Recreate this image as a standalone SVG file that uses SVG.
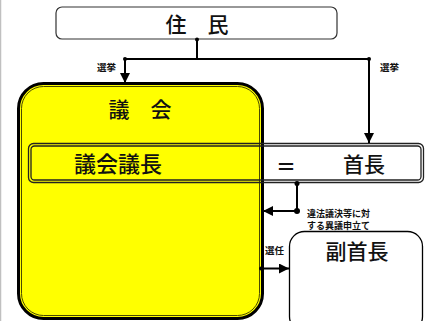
<svg xmlns="http://www.w3.org/2000/svg" width="425" height="321" viewBox="0 0 425 321">
<defs>
<style>
.t{font-family:"Noto Sans CJK JP","Noto Sans",sans-serif;fill:#111;}
.big{font-size:21px;font-weight:500;}
.sm{font-size:9.5px;font-weight:bold;}
.ln{stroke:#000;stroke-width:2;fill:none;}
</style>
<marker id="ah" viewBox="0 0 10 10" refX="10" refY="5" markerWidth="5" markerHeight="5" orient="auto" markerUnits="strokeWidth">
<path d="M0,0 L10,5 L0,10 z" fill="#000"/>
</marker>
</defs>
<rect width="425" height="321" fill="#fff"/>
<line x1="0.5" y1="0" x2="0.5" y2="321" stroke="#c0c0c0" stroke-width="1.5"/>

<g id="jumin">
<rect x="56" y="7" width="281" height="32" rx="6" fill="#fff" stroke="#333" stroke-width="1.2"/>
<text class="t big" x="197" y="32" text-anchor="middle">住　民</text>
</g>

<g id="gikai">
<rect x="18.5" y="83.5" width="244" height="235" rx="25" fill="#ffff00" stroke="#000" stroke-width="3"/>
<rect x="21.5" y="86.5" width="238" height="229" rx="22" fill="none" stroke="#4a4a00" stroke-width="1"/>
<text class="t big" x="140" y="117" text-anchor="middle">議　会</text>
</g>

<g id="band">
<rect x="28.5" y="143.5" width="395" height="39" rx="5" fill="none" stroke="#222" stroke-width="1.3"/>
<rect x="31" y="146" width="390" height="34" rx="3.5" fill="none" stroke="#222" stroke-width="1.3"/>
<text class="t big" x="118" y="172" text-anchor="middle" style="font-size:22px">議会議長</text>
<text class="t big" x="286" y="175" text-anchor="middle" style="font-size:20px;font-weight:bold">＝</text>
<text class="t big" x="364" y="172" text-anchor="middle">首長</text>
</g>

<g id="fukushucho">
<rect x="289.5" y="231.5" width="133" height="100" rx="15" fill="#fff" stroke="#000" stroke-width="1.3"/>
<text class="t big" x="357" y="259" text-anchor="middle">副首長</text>
</g>

<g id="connectors">
<line class="ln" x1="197" y1="39" x2="197" y2="59"/>
<line class="ln" x1="125" y1="59" x2="369" y2="59"/>
<circle cx="197" cy="39.5" r="2" fill="#000"/>
<circle cx="125" cy="59" r="2" fill="#000"/>
<circle cx="369" cy="59" r="2" fill="#000"/>
<line class="ln" x1="125" y1="59" x2="125" y2="83" marker-end="url(#ah)"/>
<line class="ln" x1="369" y1="59" x2="369" y2="143" marker-end="url(#ah)"/>
<circle cx="297" cy="183.5" r="2.5" fill="#000"/>
<polyline class="ln" points="297,183 297,211 263,211" marker-end="url(#ah)"/>
<circle cx="297" cy="211" r="3" fill="#000"/>
<circle cx="261" cy="268.5" r="2" fill="#000"/>
<line class="ln" x1="261" y1="268.5" x2="289" y2="268.5" marker-end="url(#ah)"/>
</g>

<g id="labels">
<text class="t sm" x="97" y="71">選挙</text>
<text class="t sm" x="380" y="71">選挙</text>
<text class="t sm" x="307" y="217" style="font-size:9px">違法議決等に対</text>
<text class="t sm" x="307" y="228.5" style="font-size:9px">する異議申立て</text>
<text class="t sm" x="265" y="254">選任</text>
</g>
</svg>
